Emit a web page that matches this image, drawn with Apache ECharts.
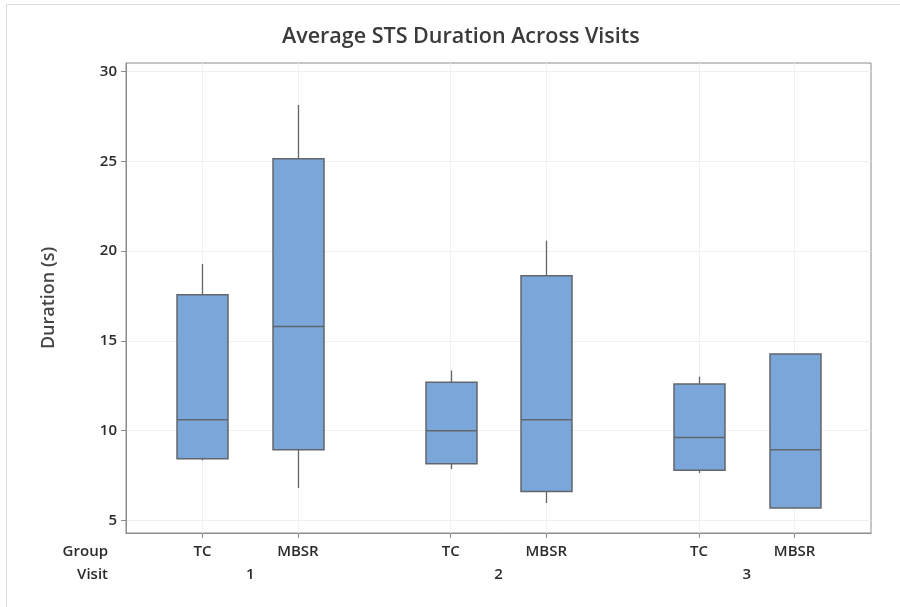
<!DOCTYPE html>
<html>
<head>
<meta charset="utf-8">
<script src="https://cdn.jsdelivr.net/npm/echarts@6/dist/echarts.min.js"></script>
<style>html,body{margin:0;padding:0;background:#fff}#c{width:900px;height:607px}</style>
</head>
<body>
<div id="c"></div>
<script>
// ---- data ----
var groups = ['TC', 'MBSR'];
var visits = ['1', '2', '3'];
// [min, Q1, median, Q3, max] per visit, per group
var tcStats = [
  [8.35, 8.43, 10.60, 17.56, 19.28],
  [7.86, 8.16, 9.99, 12.70, 13.35],
  [7.64, 7.80, 9.62, 12.59, 13.01]
];
var mbsrStats = [
  [6.80, 8.93, 15.80, 25.14, 28.13],
  [5.97, 6.61, 10.60, 18.62, 20.58],
  [5.69, 5.69, 8.93, 14.26, 14.26]
];
var yTicks = [5, 10, 15, 20, 25, 30];

// ---- layout slots (half-step category axis) ----
var SLOTS = 79;
var firstSlot = 8, groupStep = 10, visitStep = 26;
var groupLabels = [], visitLabels = [];
for (var i = 0; i < SLOTS; i++) { groupLabels.push(''); visitLabels.push(''); }
var boxData = [];
var statsByGroup = [tcStats, mbsrStats];
visits.forEach(function (v, vi) {
  groups.forEach(function (g, gi) {
    var s = firstSlot + vi * visitStep + gi * groupStep;
    groupLabels[s] = g;
    boxData.push([s].concat(statsByGroup[gi][vi]));
  });
  visitLabels[firstSlot + vi * visitStep + groupStep / 2] = v;
});

var txt = '#2b2b2b';
var FONT = 'Open Sans';
var BOX_W = 51;
var edge = '#62666c';

function renderBox(params, api) {
  var x = api.value(0);
  var pMin = api.coord([x, api.value(1)]);
  var pQ1 = api.coord([x, api.value(2)]);
  var pMed = api.coord([x, api.value(3)]);
  var pQ3 = api.coord([x, api.value(4)]);
  var pMax = api.coord([x, api.value(5)]);
  var cx = Math.round(pQ1[0]) + 0.5;
  var hw = BOX_W / 2;
  var lineStyle = { stroke: edge, lineWidth: 1.3 };
  return {
    type: 'group',
    children: [
      { type: 'line', shape: { x1: cx, y1: pMin[1], x2: cx, y2: pQ1[1] }, style: lineStyle },
      { type: 'line', shape: { x1: cx, y1: pQ3[1], x2: cx, y2: pMax[1] }, style: lineStyle },
      { type: 'rect', shape: { x: cx - hw, y: pQ3[1], width: BOX_W, height: pQ1[1] - pQ3[1] },
        style: { fill: '#7ba6d9', stroke: edge, lineWidth: 1.5 } },
      { type: 'line', shape: { x1: cx - hw, y1: pMed[1], x2: cx + hw, y2: pMed[1] }, style: { stroke: edge, lineWidth: 1.5 } }
    ]
  };
}

var chart = echarts.init(document.getElementById('c'));
chart.setOption({
  backgroundColor: '#fff',
  animation: false,
  title: {
    text: 'Average STS Duration Across Visits',
    left: 277, top: 21,
    textStyle: { fontFamily: FONT, fontSize: 21.5, fontWeight: 600, color: '#3a3a3a' }
  },
  graphic: [{ type: 'rect', shape: { x: 6.5, y: 4.5, width: 1000, height: 1000 }, style: { fill: 'none', stroke: '#dcdcdc', lineWidth: 1 }, silent: true }],
  grid: { left: 126, right: 29, top: 63, bottom: 74, show: true, borderColor: '#8c8c8c', borderWidth: 1, containLabel: false, outerBoundsMode: 'none' },
  xAxis: [{
    type: 'category', data: groupLabels, boundaryGap: false, position: 'bottom',
    name: 'Group', nameLocation: 'start', nameGap: 18,
    nameTextStyle: { fontFamily: FONT, fontSize: 15, fontWeight: 600, color: txt, verticalAlign: 'top', padding: [11, 0, 0, 0] },
    axisLine: { show: true, lineStyle: { color: '#8c8c8c', width: 1 } },
    axisTick: { show: true, length: 5, lineStyle: { color: '#8c8c8c' }, interval: function (idx, val) { return val !== ''; } },
    axisLabel: { interval: function (idx, val) { return val !== ''; }, margin: 11, fontFamily: FONT, fontSize: 15, fontWeight: 600, color: txt },
    splitLine: { show: true, interval: function (idx, val) { return val !== ''; }, lineStyle: { color: '#f0f0f0', width: 1 } }
  }, {
    type: 'category', data: visitLabels, boundaryGap: false, position: 'bottom', offset: 23,
    name: 'Visit', nameLocation: 'start', nameGap: 18,
    nameTextStyle: { fontFamily: FONT, fontSize: 15, fontWeight: 600, color: txt, verticalAlign: 'top', padding: [11, 0, 0, 0] },
    axisLine: { show: false }, axisTick: { show: false },
    axisLabel: { interval: function (idx, val) { return val !== ''; }, margin: 11, fontFamily: FONT, fontSize: 15, fontWeight: 600, color: txt },
    splitLine: { show: false }
  }],
  yAxis: {
    type: 'value', min: 4.3, max: 30.47,
    name: 'Duration (s)', nameLocation: 'middle', nameGap: 68,
    nameTextStyle: { fontFamily: FONT, fontSize: 18, fontWeight: 600, color: '#444' },
    axisLine: { show: true, lineStyle: { color: '#8c8c8c', width: 1 } },
    axisTick: { show: true, length: 5, lineStyle: { color: '#8c8c8c' }, customValues: yTicks },
    axisLabel: { customValues: yTicks, margin: 9, fontFamily: FONT, fontSize: 15, fontWeight: 600, color: txt },
    splitLine: { show: true, lineStyle: { color: '#f0f0f0', width: 1 } }
  },
  series: [{
    type: 'custom',
    xAxisIndex: 0,
    data: boxData,
    encode: { x: 0, y: [1, 2, 3, 4, 5] },
    renderItem: renderBox
  }]
});
</script>
</body>
</html>
